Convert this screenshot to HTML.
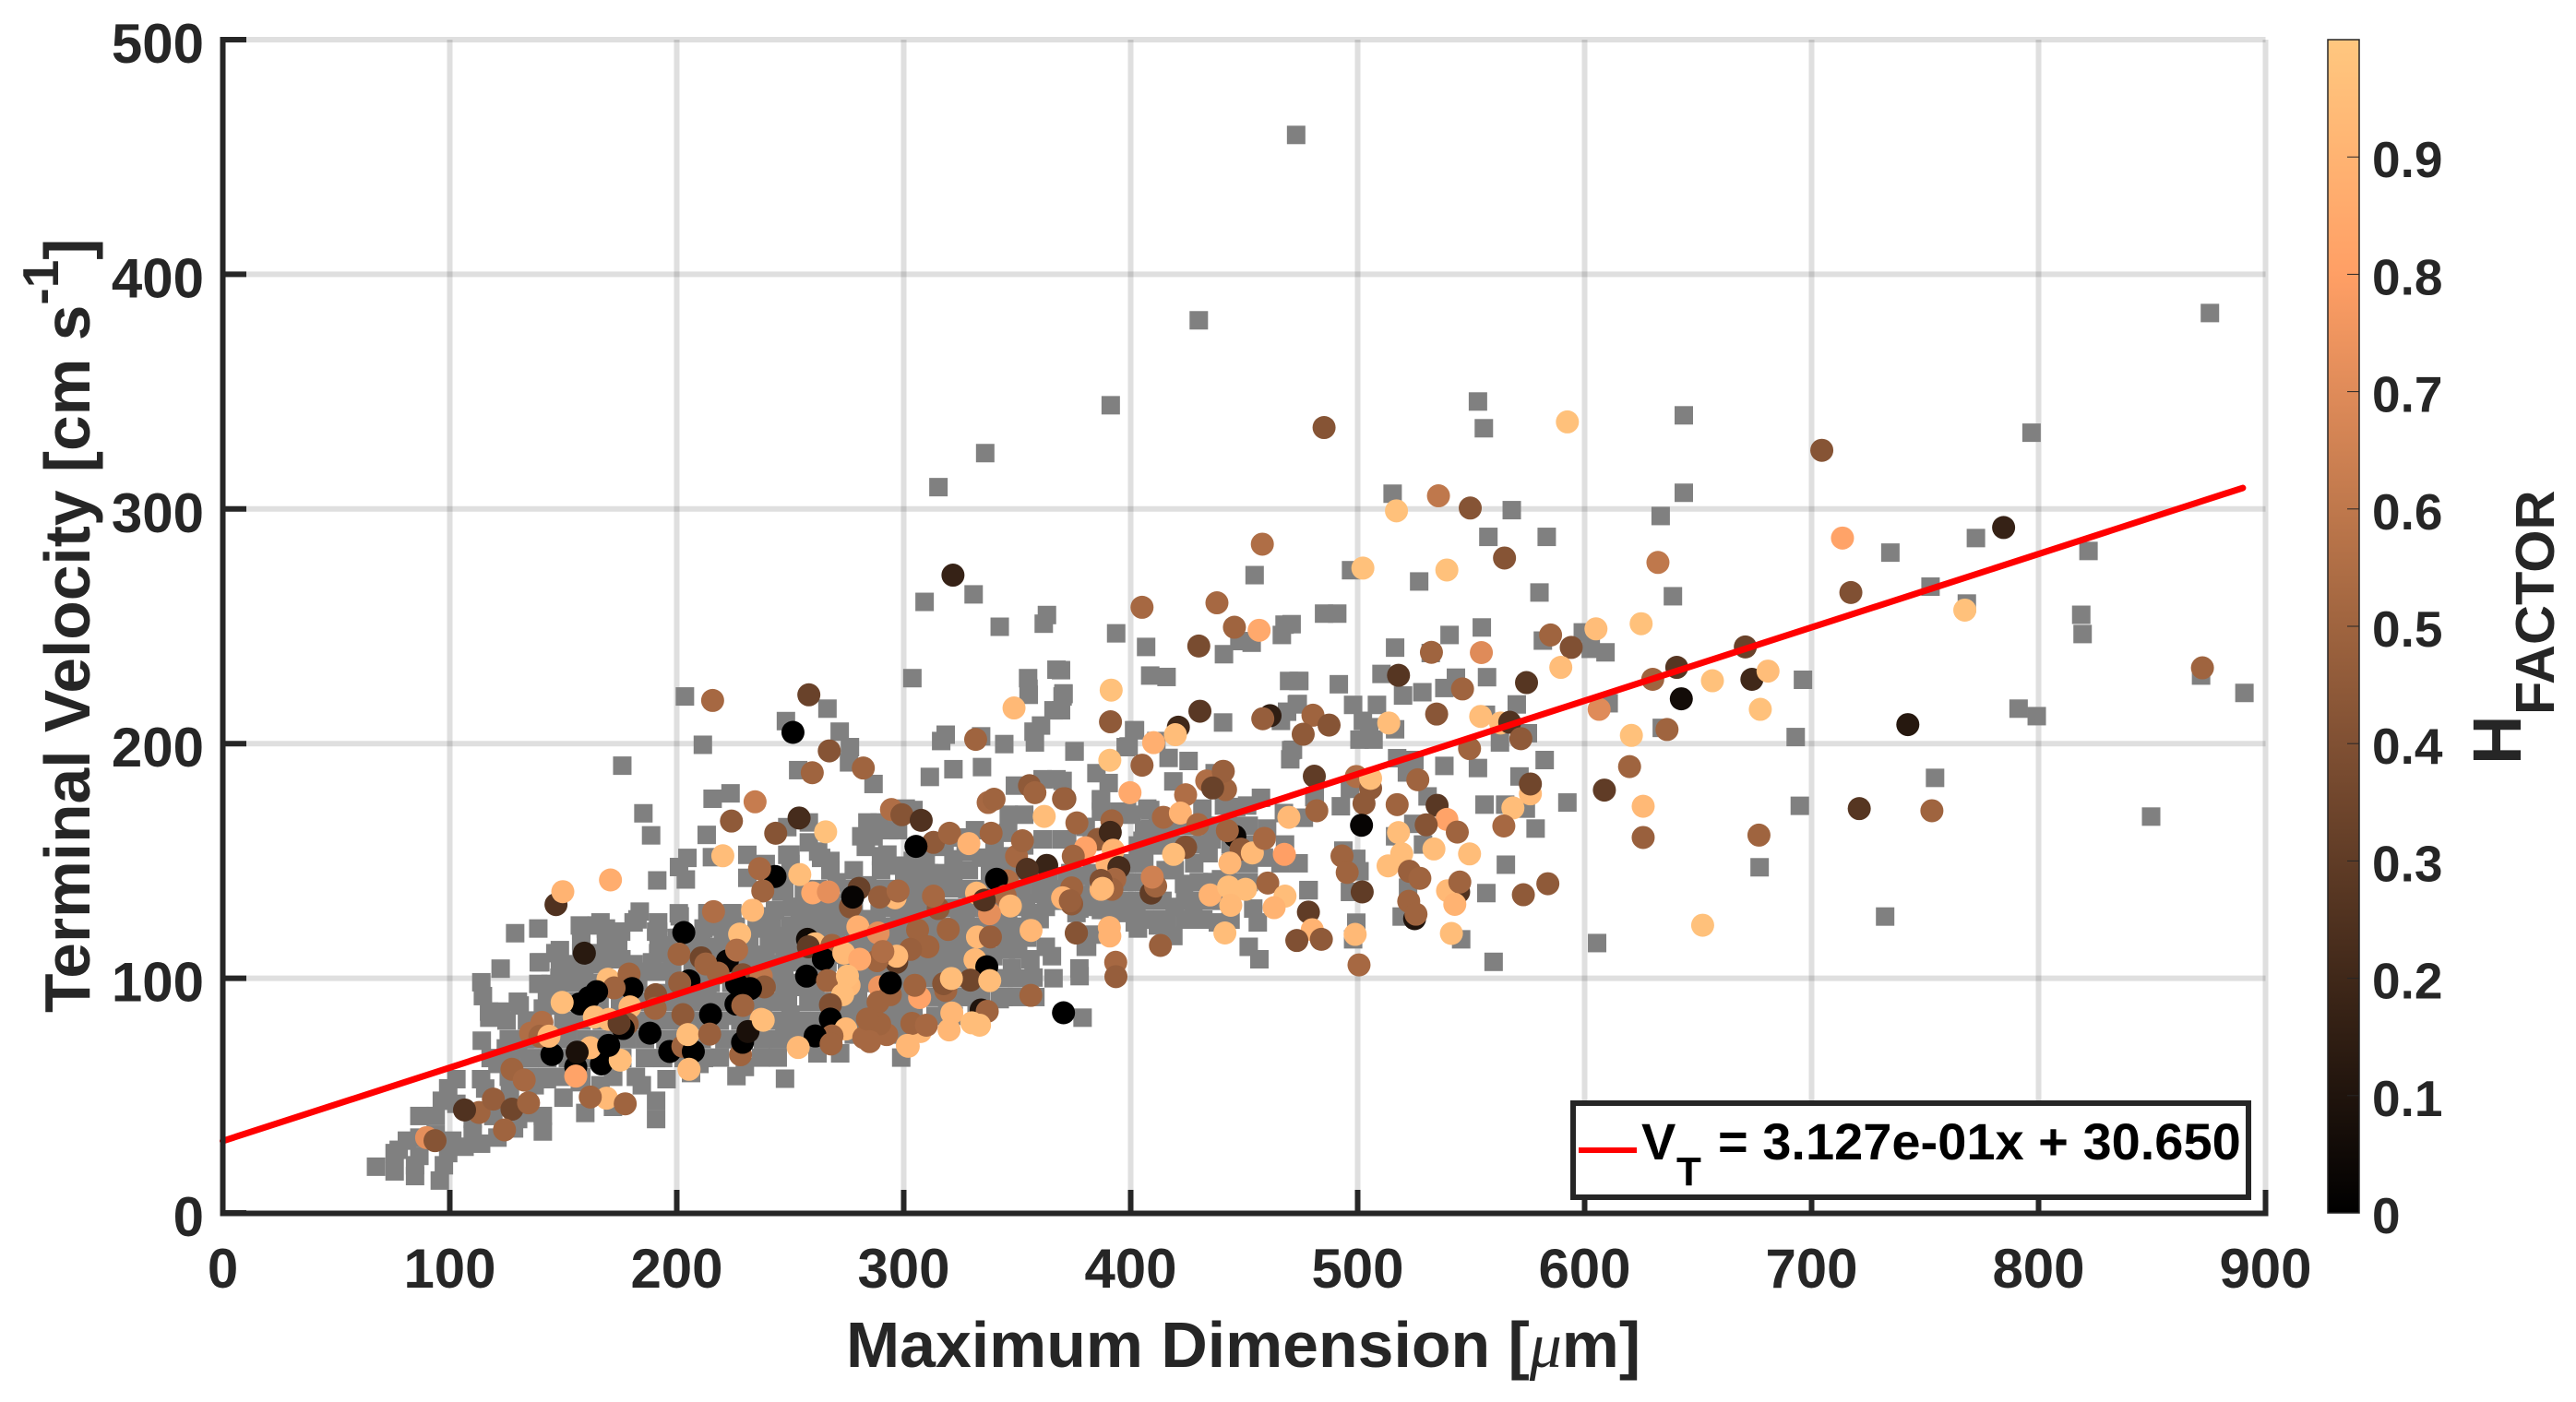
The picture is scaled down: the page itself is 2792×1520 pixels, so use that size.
<!DOCTYPE html>
<html lang="en">
<head>
<meta charset="utf-8">
<title>Terminal Velocity vs Maximum Dimension</title>
<style>
html,body{margin:0;padding:0;background:#fff;}
svg{display:block;}
text{font-family:"Liberation Sans",sans-serif;font-weight:bold;fill:#262626;}
</style>
</head>
<body>
<svg id="chart" xmlns="http://www.w3.org/2000/svg" width="2792" height="1520" viewBox="0 0 2792 1520">
  <rect x="0" y="0" width="2792" height="1520" fill="#ffffff"/>
  <g id="grid"></g>
  <g id="grayMarks"></g>
  <g id="circleMarks"></g>
  <line id="fitLine" stroke="#ff0000" stroke-width="7" stroke-linecap="round"/>
  <g id="axes"></g>
  <text x="917" y="1482" font-size="69.8">Maximum Dimension [<tspan font-family="Liberation Serif" font-style="italic" font-weight="normal">μ</tspan>m]</text>
  <text transform="translate(97,1098) rotate(-90)" font-size="69.5">Terminal Velocity [cm s<tspan font-size="55" dy="-34">-1</tspan><tspan dy="34">]</tspan></text>
  <defs><linearGradient id="cbarGrad" x1="0" y1="1" x2="0" y2="0"></linearGradient></defs>
  <rect id="cbar" x="2523" y="43" width="34" height="1272" fill="url(#cbarGrad)" stroke="#262626" stroke-width="1.5"/>
  <g id="cbarAxis"></g>
  <text transform="translate(2732,829) rotate(-90)" font-size="74">H</text>
  <text transform="translate(2768,775) rotate(-90)" font-size="59.5">FACTOR</text>
  <g>
    <rect x="1705" y="1196" width="732" height="102" fill="#ffffff" stroke="#262626" stroke-width="6"/>
    <line x1="1711" y1="1247" x2="1774" y2="1247" stroke="#ff0000" stroke-width="6"/>
    <text x="1779" y="1257" font-size="56" style="fill:#000">V</text>
    <text x="1817" y="1285" font-size="44" style="fill:#000">T</text>
    <text x="1862" y="1257" font-size="56" style="fill:#000">= 3.127e-01x + 30.650</text>
  </g>
</svg>
<script>
const xTicks = [0,100,200,300,400,500,600,700,800,900];
const yTicks = [0,100,200,300,400,500];
const cbarTicks = [0,0.1,0.2,0.3,0.4,0.5,0.6,0.7,0.8,0.9];
const cbarLabels = ['0','0.1','0.2','0.3','0.4','0.5','0.6','0.7','0.8','0.9'];
const fitSlope = 0.3127;
const fitIntercept = 30.65;
const fitRange = [0,890];

const grayOutliers = [
[553,345.8],[555.6,334.4],[643.7,339.9],[796.9,332.5],[515.4,306.5],[567.9,299.5],[643.7,306.9],[633.5,297],[557.6,288.1],[583.3,288.1],[734.7,281.4],[772.4,287.6],[822,282.1],[497.1,273.9],[527.1,269.1],[580.1,264.4],[638.9,262.8],[752.4,266.9],[768.4,259.7],[818.8,254.9],[819.4,246.7],[485.2,255.4],[491,255.4],[554.7,249.5],[540.5,246.3],[516.5,240.9],[581.6,243.9],[599.2,247.4],[602.7,240.4],[609.2,238.9],[532.2,238.6],[474.3,226.7],[491.7,225.3],[510.5,229.7],[520,220.5],[528.5,221.9],[538.2,223.7],[543.3,228.1],[557,228.3],[696.2,227.2],[470.9,250.9],[570.1,216.7],[498,216.5],[508.5,216.5],[473.2,216.7],[502.3,209.7],[516.5,206.1],[500.8,201.7],[507,201.7],[505.1,207],[556.5,212.3],[610.6,217.2],[575,204.4],[562.7,200.5],[791.2,214.9],[799.2,211.7],[693,202.8],[634,206.7],[871.6,229],[890.7,221.6],[471.5,197.4],[517.4,193.8],[525,193],[538.2,190.5],[553,189.6],[571.3,186],[582.4,193],[521.7,187.7],[496.6,180.7],[480.9,177.2],[492.6,173.3],[530.8,177.5],[555.9,174],[565,174],[574.1,172.3],[592.4,174.9],[694.8,173.5],[754.4,185.4],[475.2,168.4],[524.5,165.8],[578.4,163.8],[516.5,160.5],[528.8,157],[493.7,154.4],[499.4,150.9],[500.8,145.6],[565.3,148.4],[677.1,147.3],[522.2,138.6],[478.3,137.5],[496.6,136.8],[556.7,136.3],[499.4,123.7],[498,116.6],[545.6,116.6],[605.5,115],[732.4,126.3],[849.6,168.9],[559.9,107],[519.4,126.3],
[472.9,459.4],[430,380.4],[875.5,383.5],[391.2,344.2],[335.9,323.8],[315.3,309.3],
[309.2,260.4],[330.8,263.6],[342.3,249.8],[361.7,251.1],[363.1,254.8],[303.8,227.9],[354.8,227.9],[355,223.4],[367.3,231.5],[370.4,221.1],[454.6,271.8]
];

const grayMiddle = [
[393.6,247],[406.8,241.2],[408.6,229],[415.8,228.4],[441.1,238.1],[447.9,243.7],[453.3,243],[466.6,246.3],[467.8,250.7],[469.8,226.7],[473.9,226.7],[369.3,231.3],[370.4,221.4],[369.3,214.2],[440.7,209],[401.5,205.7],[399.1,198.8],[411.3,201.1],[416.7,193.9],[425.5,192.6],[375.3,196.8],[384.9,187.4],[390.3,183.2],[386.9,175.6],[395,171],[398.4,171],[408.6,171.7],[418.8,183.9],[370,184.1],[408.6,163.8],[405.2,158.6],[431.6,172.3],[437,187.4],[441.1,173.6],[446.5,173],[451.3,173.6],[457.4,176.9],[460.1,163.8],[467.5,170.4],[476.3,168.4],[468.9,213.6],[473.6,216.9],[466.2,209.7],[470.7,197.2],[470.3,193.3],[481.1,177.6],[434.3,153.3],[435.7,159.2],[439.8,142.2],[458.7,151.4],[423.5,140.2],[415.4,146.1],[410,156.6],[419.4,146.1],[419.4,130.4],[427.6,129.1],[438.4,123.8],[454,129.7],[456,123.8],[452,113.4],[456.7,108.1],[402.5,129.7],[401.8,123.8],[412,122.5],[418.8,118],[380.8,113.4],[377.4,129.7],[386.9,129.1],[395,127.8],[380.8,135.6],[400.5,130.4],[403.2,156.6],[478.4,137.6],[377.4,104.2],[372,159.2],[382.9,158.9],[386.9,171],[373.4,144.8],
[266.4,214.9],[271.8,205.1],[276.3,198.5],[275.9,192],[253.5,188.7],[286.7,182.8],[300.9,172.3],[304.3,171.7],[316.5,201.1],[318.5,203.8],[334.1,203.1],[344.3,199.8],[357.8,200.5],[357.2,205.1],[360.5,207.7],[366,214.2],[370,220.1],[355.1,220.8],[375.2,196.6],[311.5,185.8],[321.9,189.1],[334.5,190],[349,182.1],[361.2,184.8],[367.3,184.8],[386.9,176.3],[397.8,198.5],[401.9,205.7],[346.3,169.7],[353.1,169.7],[396.4,171],[407.3,172.3],[284,166.4],[289.4,166.4],[281.3,160.5],[286.7,160.5],[293.5,163.1],[297.5,163.1],[283.3,156],[292.8,152.7],[258.2,157.9],[262.3,154],[267.7,150],[250.1,152.7],[247.4,143.5],[247.4,137],[270.4,140.9],[284,139.6],[300.2,144.8],[305.7,144.8],[311.1,144.8],[316.5,144.8],[321.9,143.5],[328.7,146.1],[334.1,151.4],[331.4,163.1],[339.5,151.4],[342.3,148.7],[304.3,140.9],[315.2,140.9],[320.6,138.3],[309.7,150],[321.9,150.7],[327.3,154],[358.5,144.8],[363.9,144.8],[372,143.5],[377.5,143.5],[382.9,144.8],[353.1,156.6],[361.2,159.2],[369.4,159.2],[380.2,164.5],[400.5,169.7],[405.9,163.1],[362.6,130.4],[368,133],[359.9,125.2],[355.8,127.8],[350.4,130.4],[376.1,127.8],[382.9,130.4],[389.7,129.1],[396.4,130.4],[401.9,126.5],[403.2,121.2],[380.2,113.4],[382.9,118.6],[255.5,130.4],[263.7,126.5],[269.1,125.2],[282.6,125.2],[289.4,130.4],[300.2,130.4],[305.7,131.7],[288,123.9],[308.4,127.8],[327.3,122.5],[324.6,123.9],[300.2,121.2],[297.5,117.3],[323.3,113.4],[330,113.4],[321.9,106.8],[315.2,106.8],[311.1,105.5],[308.4,106.8],[305.7,105.5],[342.3,118.6],[347.7,117.3],[354.4,117.3],[362.6,113.4],[365.3,109.4],[339.5,109.4],[350.4,112.1],[345,112.1],[347.7,104.2],[355.8,108.1],[357.2,100.3],[377.5,100.9],[342.3,91.1],[331.4,95],[332.1,85.9],[378.8,83.2],[319.2,89.8],[303,91.1],[304.3,85.9],[250.1,148.7],[250.1,122.5],[248.8,117.3],[247.4,110.7],[254.2,127.8],[265,118.6],[262.3,122.5],[270.4,121.2],[250.1,106.8],[251.5,96.3],[247.4,101.6],[258.2,91.1],[250.1,84.5],[254.2,79.3],[261,96.3],[266.4,106.8],[278.6,118.6],[281.3,104.2],[286.7,106.8],[293.5,109.4],[301.6,112.1],[307,119.9],[315.2,119.9],[298.9,104.2],[308.4,101.6],[315.2,109.4],[274.5,88.5],[279.9,91.1],[277.2,83.2],[293.5,87.2],[296.2,83.2],[298.9,66.2],[298.9,87.2],[301.6,80.6],[247.4,91],[247.4,78],[255.5,74],[261,72.8]
];

const grayLower = [
[203.6,220.1],[211.5,199.5],[176,190.6],[248.1,209.6],[215.8,176.5],[223.7,178.8],[185.3,170.3],[188.7,160.9],[213.2,161.1],[204.7,151.3],[201,147.4],[204,142.1],[191.4,141.7],[215.5,151.6],[231.1,152.6],[239.2,148.7],[248.7,152.6],[231.1,142.8],[248.7,164.4],[258.2,166.4],[263.6,151.3],[267.7,146],[246,136.9],[243.3,129],[250.8,130.4],[183.7,128.4],[181,123.8],[191.8,123.8],[191.8,119.8],[164.7,122.5],[157.9,120.5],[168.8,121.2],[174.2,119.9],[174.2,113.3],[168.8,115.9],[157.9,116],[157.9,110.7],[148.5,112],[148.5,105.5],[139.9,106.8],[122.4,104.1],[139,121.2],[128.8,119.2],[113.9,98.3],[114.6,92.4],[201.3,126.4],[213.5,127.7],[224.3,127.7],[200,117.2],[210.8,117.2],[220.3,117.2],[193.2,110.7],[189.1,106.8],[190.5,102.8],[206.7,110.7],[216.2,113.3],[229.8,116],[240.6,114.6],[248.7,114.6],[235.2,121.2],[236.5,126.4],[254.2,118.6],[265,123.8],[181,106],[175.6,108.1],[168.8,108.1],[159.3,102.8],[152.5,100.2],[144.4,97.6],[139,97.6],[186.4,102.8],[194.5,102.8],[194.5,93.7],[206.7,93.7],[213.5,93.7],[130.8,88.4],[122.7,85.8],[117.3,85.8],[143,88.4],[239.2,109.4],[248.7,108.1],[256.9,104.1],[237.9,87.1],
[121,85.2],[117.4,83.2],[114.1,73.4],[124.7,70.1],[130.1,70.1],[113.8,57],[121,63.5],[124.7,66.2],[102.9,57],[99.3,53.1],[96.5,47.8],[93.8,41.3],[86.6,41.3],[102.9,46.5],[77.5,26.9],[81.1,30.8],[75.7,25.5],[67.5,19.7],[75.7,17.7],[84.7,15.7],[95.6,13.8],[97.4,20.3],[86.6,24.3],[84.7,20.3],[99.3,25.5],[106.5,28.2],[113.8,29.5],[121,32.1],[128.3,36],[141,34.7],[141,41.3],[110.1,33.4],[101.1,30.8],[93.8,33.4],[86.6,32.1],[110.1,40],[119.2,41.3],[130.1,40],[133.7,42.6],[115.6,53],[126.5,51.7],[137.4,54.4],[142.8,57],[150.1,49.1],[157.3,55.7],[166.4,54.4],[159.7,42.6],[171.9,45.2],[190.9,40],[190.9,47.8],[184.6,54.4],[195.5,57],[206.3,59.6],[226.3,58.3],[247.7,57.2],[210,63.5],[219,66.2],[237.2,66.2],[230,62.2],[244.5,66.2],[137.4,74],[141,87.1],[142.8,93.7],[148.3,100.2],[146.5,110.7],[139.2,106.8],[157.3,102.8],[164.6,110.7],[157.3,122.5],[166.4,123.8],[175.5,119.9],[182.7,125.1],[190.9,119.9],[171.9,112],[200.9,127.7],[213.6,127.7],[224.5,127.7],[191.8,110.7],[200.9,117.2],[211.8,121.2],[224.5,122.5]
];

const grayCore = [
[126,58],[134,58],[142,58],[150,58],[158,58],[172,58],[182,58],
[118,66],[127,66],[135,66],[143,66],[152,66],[160,66],[168,66],[176,66],[186,66],[194,66],[203,66],[212,66],
[126,74],[133,74],[144,74],[152,74],[160,74],[168,74],[178,74],[186,74],[195,74],[203,74],[211,74],[221,74],[229,74],[238,74],[246,74],
[125,82],[134,82],[150,82],[158,82],[167,82],[176,82],[186,82],[194,82],[202,82],[210,82],[219,82],[228,82],[236,82],[245,82],[255,82],[263,82],
[130,90],[150,90],[158,90],[166,90],[175,90],[183,90],[191,90],[199,90],[208,90],[216,90],[224,90],[232,90],[241,90],[249,90],[258,90],[266,90],
[150,98],[158,98],[166,98],[175,98],[183,98],[199,98],[207,98],[215,98],[224,98],[232,98],[240,98],[248,98],[256,98],[264,98],[272,98],[280,98],[288,98],[296,98],
[152,106],[165,106],[198,106],[207,106],[216,106],[225,106],[233,106],[242,106],[258,106],[266,106],[275,106],[283,106],[292,106],[300,106],
[192,114],[200,114],[208,114],[224,114],[232,114],[256,114],[264,114],[272,114],[280,114],[288,114],[296,114],[304,114],[312,114],[320,114],[328,114],[336,114],
[218,122],[226,122],[242,122],[272,122],[280,122],[290,122],[312,122],[320,122],[336,122],[344,122],[352,122],
[262,130],[270,130],[278,130],[296,130],[312,130],[320,130],[328,130],[336,130],[344,130],
[256,138],[262,138],[276,138],[292,138],[298,138],[306,138],[314,138],[328,138],[336,138],[344,138],[352,138],[360,138],[368,138],
[278,146],[290,146],[350,146],[360,146],
[310,100],[318,100],[326,100],[334,100],[342,100],[350,100],[366,100],
[290,92],[298,92],[312,92],[320,92],[326,92],[334,92],[344,92],[350,92],[358,92],
[272,84],[282,84],[290,84],[314,84],[322,84],
[255,76],[265,76],[278,76],[290,76],[298,76],[262,68],[272,68],
[412,165],[420,165],[428,165],[436,165],[444,165],[452,165],
[412,157],[420,157],[428,157],[444,157],[452,157],[468,157],
[398,149],[406,149],[428,149],[444,149],[452,149],[466,149],[474,149],
[398,141],[406,141],[430,141],[436,141],[444,141],[452,141],
[398,133],[406,133],[414,133],[424,133],[432,133],[440,133],
[408,125],[416,125],[424,125],[432,125],[444,125],
[212,102],[220,110],[228,110],[236,110],[244,118],[252,110],[262,112],[270,110],[278,112],[286,102],[294,102],[304,100],[312,108],[326,106],[334,106],[326,118],[332,122],[338,126],[346,124],[354,132],[362,136],[372,136],[384,138],[392,134],[338,144],[346,152],[340,158],[346,162],[304,150],[296,148],[290,152],[310,156],[318,156],[324,160],[298,124],[304,126],[284,118],[276,126],[268,132],[258,124],[244,104],[236,92],[226,84],[214,78],[204,86]
];

const hFactorUpper = [
[485.2,334.7,.42],[592.4,337.1,.97],[704.5,325,.42],[535.6,305.6,.6],[517.1,299.2,.97],[549.6,300.4,.42],[502.3,274.8,.97],[539.3,274,.97],[564.7,279.1,.42],[632.3,277.2,.6],[713.6,287.6,.82],[784.6,292.1,.17],[717.3,264.4,.4],[767.5,256.9,.97],[624.9,251.1,.97],[605,248.9,.95],[585,246.3,.5],[594.1,241,.4],[554.5,238.8,.7],[532.5,238.9,.5],[589.5,232.5,.95],[518,229.1,.27],[574.4,226,.27],[546.2,223.3,.5],[640.6,232.5,.27],[670.8,241.2,.33],[630,227.4,.5],[656.3,226.8,.97],[673.7,227.4,.2],[680.8,230.9,.95],[677.4,214.6,.97],[642.6,219.1,.06],[606.4,214.6,.7],[620.6,203.5,.97],[636.3,206,.5],[742.4,208.1,.12],[872.2,232.3,.5],[619.8,190.2,.5],[608.7,180.2,.3],[625.8,173.3,.93],[625.8,160,.48],[676.8,161,.5],[721,172.3,.27],[753,171.4,.5],[652,122.6,.97],[534.8,212.6,.43],[480.3,212.1,.5],[487.4,207.9,.42],[476,204,.45],[513.7,208.8,.95],[554.2,211.6,.95],[563,208.8,.95],[567,209.1,.25],[571.9,202.1,.45],[549.3,197.9,.5],[480.9,186.1,.3],[499.4,186,.55],[505.7,181,.45],[505.7,185.2,.95],[502.8,174.5,.45],[482,171.4,.5],[517.4,174,.5],[535,173.7,.28],[539.3,167.7,.82],[530.2,165.4,.42],[543.9,162.3,.5],[526.5,184.6,.5],[576.1,178.6,.93],[576.1,182.8,.35],[568.4,172.6,.95],[564.4,164.9,.52],[501.7,165.2,.02],[518,162.1,.95],[533.6,155.1,.95],[549.3,153,.95],[519.4,153.1,.95],[513.4,147.9,.95],[493.1,152.1,.5],[495.4,145.1,.5],[522.8,145.6,.48],[527.4,142.6,.5],[544.5,136.8,.25],[539.6,137.3,.93],[545,141,.5],[542.8,131.5,.9],[502,136.8,.3],[573,135.6,.45],[583.8,140.3,.45],[525.1,125.4,.1],[522.5,132.8,.5],[525.7,127.3,.5],[478.3,128.2,.3],[480,120.7,.9],[473.2,116.1,.4],[484,116.6,.45],[498.9,118.7,.93],[541.3,119.1,.95],[500.6,105.7,.52],
[321.7,271.8,.17],[458,285,.55]
];

const hFactorMiddle = [
[405,258.1,.52],[438,260,.52],[445.7,249.6,.5],[456.6,248.3,.85],[430,241.6,.38],[391.4,222.8,.97],[391.1,209.3,.45],[421,207,.2],[430.5,213.8,.28],[419.7,203.8,.95],[410.1,200.4,.88],[390.8,192.9,.97],[405,190.8,.48],[399.7,179.1,.85],[461.4,211.9,.15],[458.2,210.6,.47],[433.5,184.1,.55],[441.8,180.4,.5],[440.8,188.2,.48],[436.1,181.1,.33],[424.2,178.2,.55],[414.4,168.6,.52],[421.9,170.4,.9],[429.6,165.5,.52],[424.2,155.8,.4],[418.9,152.8,.95],[376.3,166.2,.5],[391.7,167.1,.5],[385.6,159.2,.45],[391,162.2,.2],[380.1,155.6,.82],[374.7,152,.5],[392.3,154.6,.9],[389.6,148.7,.9],[394.8,147.2,.22],[371,176.5,.45],[393,142.2,.52],[391.7,137.9,.5],[386.9,137.9,.9],[386.9,141.7,.4],[374,138.5,.5],[374,131.7,.45],[409,136.3,.3],[411,139.3,.5],[409.5,143.1,.65],[445.9,160.5,.03],[442.6,162.9,.5],[448.6,155,.45],[453.6,153.4,.93],[458.9,159.6,.52],[469.7,168.6,.93],[467.7,152.8,.8],[443.7,149.1,.92],[460.4,140.6,.5],[435,135.5,.9],[450.6,137.9,.95],[443.1,138.9,.95],[444.1,131.1,.93],[468,135,.95],[463.2,130.1,.9],[390.6,121.6,.9],[376,119.3,.42],[413.1,114,.48],[441.5,119.3,.95],[393.4,106.8,.52],
[258.2,220.8,.33],[251.2,204.8,0],[267.2,196.9,.42],[259.7,187.6,.5],[282.2,189.6,.5],[294.6,171.9,.55],[299.2,169.7,.42],[307.7,167.3,.25],[253.9,168.3,.22],[265.6,162.4,.97],[313.1,157.9,.45],[320.2,161.8,.5],[305.4,156.2,0],[328.7,157.4,.9],[331.7,201.8,.5],[348.6,215.2,.93],[338.5,161.8,.5],[337.2,174.9,.52],[339.8,176.3,.5],[355.4,182.1,.45],[357.8,179.1,.5],[370.4,176.5,.48],[361.9,169,.95],[349.7,152,.52],[352.3,158.6,.5],[363,148.1,.18],[354.4,146.4,.25],[345.6,141.5,.55],[340.9,142.2,0],[332.1,136.3,.93],[344.7,135,.52],[347,130.8,.93],[337.8,127.5,.72],[335.5,133.3,.25],[370,134.3,.9],[373.4,133,.48],[387.6,138.3,.93],[280.3,138.3,.33],[276.5,130.4,.42],[277.5,134.6,.02],[296.2,134.3,.93],[289.4,134.6,.47],[297.5,137.2,.52],[315.2,129.7,.45],[313.1,135,.52],[306.1,120.6,.5],[319.6,120.8,.5],[279.8,121.9,.88],[288.7,119.3,.72],[332.5,117.6,.93],[338.2,117.6,.47],[356.1,120.4,.92],[376.1,119.3,.42],[390.8,118,.9],[393.5,100.7,.47],[254.2,144.2,.95],[259.9,136.4,.85],[266.8,136.8,.72]
];

const hFactorLower = [
[310.7,113.4,.5],[303,112.3,.48],[296.9,106.8,.3],[296.9,109.4,.93],[288.3,107.5,.5],[290.8,111.4,.55],[331.4,107.9,.93],[336.6,104.9,0],[329.4,99.2,.35],[337.9,99,.95],[318.5,94.8,.5],[317.6,97.7,.42],[321,99.9,.95],[307,91.8,.82],[304.9,97,.5],[289.4,96.3,.75],[294.1,93,.5],[294.1,98,0],[288.7,89.8,.5],[257.6,116.6,.05],[261,114.7,.95],[258,113.4,.3],[268.4,114,.5],[264.6,108.1,0],[273.6,110.7,.93],[280.6,108.1,.85],[257.2,100.9,0],[266.4,99,.5],[275.9,97,.93],[275.2,100.9,.95],[273.1,93,.95],[267.7,88.7,.4],[267.7,82.6,0],[274.5,78.4,.93],[268.4,75.4,.5],[261,75.4,0],[253.5,70.5,.93],[282.4,74.7,.52],[292.5,76,.52],[289.4,80.6,.5],[284,82.6,.5],[307.4,77.3,.92],[303.6,80.8,.5],[301.6,71.4,.92],[321.2,85.2,.92],[334.1,86.5,.1],[336.8,85.9,.5],[333.4,80,.95],[356,92.7,.5],[370.4,85.3,0],
[215.8,218.4,.52],[234.5,175.2,.62],[224.1,167,.45],[243.6,161.8,.42],[220.3,152.2,.95],[243.3,143.4,0],[236.5,146.7,.52],[237.9,137.2,.5],[233.4,129,.93],[216.2,128.4,.55],[227.7,118.8,.95],[203.1,119.5,0],[201,110.3,.5],[159.3,110.7,.13],[146.8,131.4,.25],[149.8,136.9,.9],[170.8,141.9,.87],[210.8,108.7,.35],[222.3,107.4,.02],[212.8,106.1,.5],[226.4,112,.55],[218.2,102.2,.5],[229.1,101.5,.4],[237.2,100.9,.6],[238.6,96.3,.45],[169.7,99.6,.95],[179,101.8,.5],[180.3,95.6,0],[172.4,95.9,.5],[164.7,94.3,0],[161.3,91.7,0],[157.3,89.1,0],[149.5,89.7,.95],[190.7,93,.42],[205.4,98.9,0],[201.3,98,.47],[226.4,97.6,0],[232.5,95.6,0],[226.1,89,0],[229.1,88.4,.5],[179.4,87.8,.93],[190.5,87.2,.5],[202.7,84.5,.45],[214.9,84.5,0],[237.2,82.5,.93],
[89.8,32.1,.72],[93.5,30.8,.42],[112.9,42.8,.5],[106.5,43.9,.25],[119.2,48.5,.47],[127.4,44.2,.35],[134.7,46.9,.5],[124.1,35.4,.5],[127.4,61.2,.5],[132.8,56.6,.52],[155.5,62.2,0],[155.5,58.3,.82],[169.1,48.9,.93],[161.9,49.4,.5],[177.3,46.5,.5],[166.8,63.5,0],[175.1,65.1,.95],[145,67.5,0],[161.9,70.4,.93],[156.1,68.5,.08],[170,71.4,0],[135.6,76.6,.55],[140.6,81.2,.55],[139.7,75.3,.5],[143.7,75.3,.93],[163.7,83.5,.95],[170,82.5,.93],[178.2,80.6,.45],[176.4,78.6,0],[174.6,80.8,.3],[188.2,76.6,0],[196.9,68.8,0],[202.7,71,.5],[207.3,68.8,0],[204.9,76,.95],[214.5,76.2,.48],[205.4,61.2,.93],[228.1,67.4,.5],[229,72.7,0],[231.4,77.3,.08],[238.1,82.1,.95],[268,72,.5],
[285,73,.52],[310,80,.52],[320,78,.92],[302,71,.92],[330,81,.95]
];

const grayPoints = grayOutliers.concat(grayMiddle, grayLower, grayCore);
const circlePoints = hFactorUpper.concat(hFactorMiddle, hFactorLower);

const svgNS = 'http://www.w3.org/2000/svg';
const xScale = v => 241.5 + v * 2.46;
const yScale = v => 1315 - v * 2.544;
const cbarScale = v => 1315 - v * 1272;
function copper(t){
  const r = Math.min(1, 1.25 * t) * 255;
  const g = 0.7812 * t * 255;
  const b = 0.4975 * t * 255;
  return 'rgb(' + Math.round(r) + ',' + Math.round(g) + ',' + Math.round(b) + ')';
}
function make(tag, attrs, parent){
  const el = document.createElementNS(svgNS, tag);
  for (const k in attrs) el.setAttribute(k, attrs[k]);
  parent.appendChild(el);
  return el;
}

const gridG = document.getElementById('grid');
xTicks.slice(1).forEach(function(t){
  const el = make('line', {x1:xScale(t), x2:xScale(t), y1:yScale(500), y2:yScale(0), stroke:'rgba(38,38,38,0.15)', 'stroke-width':6}, gridG);
  
  
});
yTicks.slice(1).forEach(function(t){
  const el = make('line', {x1:xScale(0), x2:xScale(900), y1:yScale(t), y2:yScale(t), stroke:'rgba(38,38,38,0.15)', 'stroke-width':6}, gridG);
  
  
});

const grayG = document.getElementById('grayMarks');
grayPoints.forEach(function(p){
  const el = make('rect', {x:xScale(p[0]) - 10, y:yScale(p[1]) - 10, width:20, height:20, fill:'#808080'}, grayG);
  
  
});

const circleG = document.getElementById('circleMarks');
circlePoints.forEach(function(p){
  const el = make('circle', {cx:xScale(p[0]), cy:yScale(p[1]), r:12.5, fill:copper(p[2])}, circleG);
  
  
});

const fit = document.getElementById('fitLine');
fit.setAttribute('x1', xScale(fitRange[0]));
fit.setAttribute('y1', yScale(fitSlope * fitRange[0] + fitIntercept));
fit.setAttribute('x2', xScale(fitRange[1]));
fit.setAttribute('y2', yScale(fitSlope * fitRange[1] + fitIntercept));

const axesG = document.getElementById('axes');
const yAxisLine = make('line', {x1:xScale(0), x2:xScale(0), y1:40, y2:1318.5, stroke:'#262626', 'stroke-width':6}, axesG);


const xAxisLine = make('line', {x1:238.5, x2:xScale(900) + 3, y1:1315.5, y2:1315.5, stroke:'#262626', 'stroke-width':6}, axesG);


xTicks.forEach(function(t){
  const tick = make('line', {x1:xScale(t), x2:xScale(t), y1:1315, y2:1290, stroke:'#262626', 'stroke-width':6}, axesG);
  
  
  const label = make('text', {x:xScale(t), y:1396, 'font-size':60, 'text-anchor':'middle'}, axesG);
  
  
  label.textContent = String(t);
});
yTicks.forEach(function(t){
  const tick = make('line', {x1:xScale(0), x2:267, y1:yScale(t), y2:yScale(t), stroke:'#262626', 'stroke-width':6}, axesG);
  
  
  const label = make('text', {x:221, y:yScale(t) + 25, 'font-size':60, 'text-anchor':'end'}, axesG);
  
  
  label.textContent = String(t);
});

const grad = document.getElementById('cbarGrad');
[0,0.1,0.2,0.3,0.4,0.5,0.6,0.7,0.8,0.9,1].forEach(function(s){
  make('stop', {offset:s, 'stop-color':copper(s)}, grad);
});
const cbarG = document.getElementById('cbarAxis');
cbarTicks.forEach(function(t, i){
  const tick = make('line', {x1:2544, x2:2557, y1:cbarScale(t), y2:cbarScale(t), stroke:'#262626', 'stroke-width':1}, cbarG);
  
  
  const label = make('text', {x:2571, y:cbarScale(t) + 22, 'font-size':55}, cbarG);
  
  
  label.textContent = cbarLabels[i];
});
</script>
</body>
</html>
